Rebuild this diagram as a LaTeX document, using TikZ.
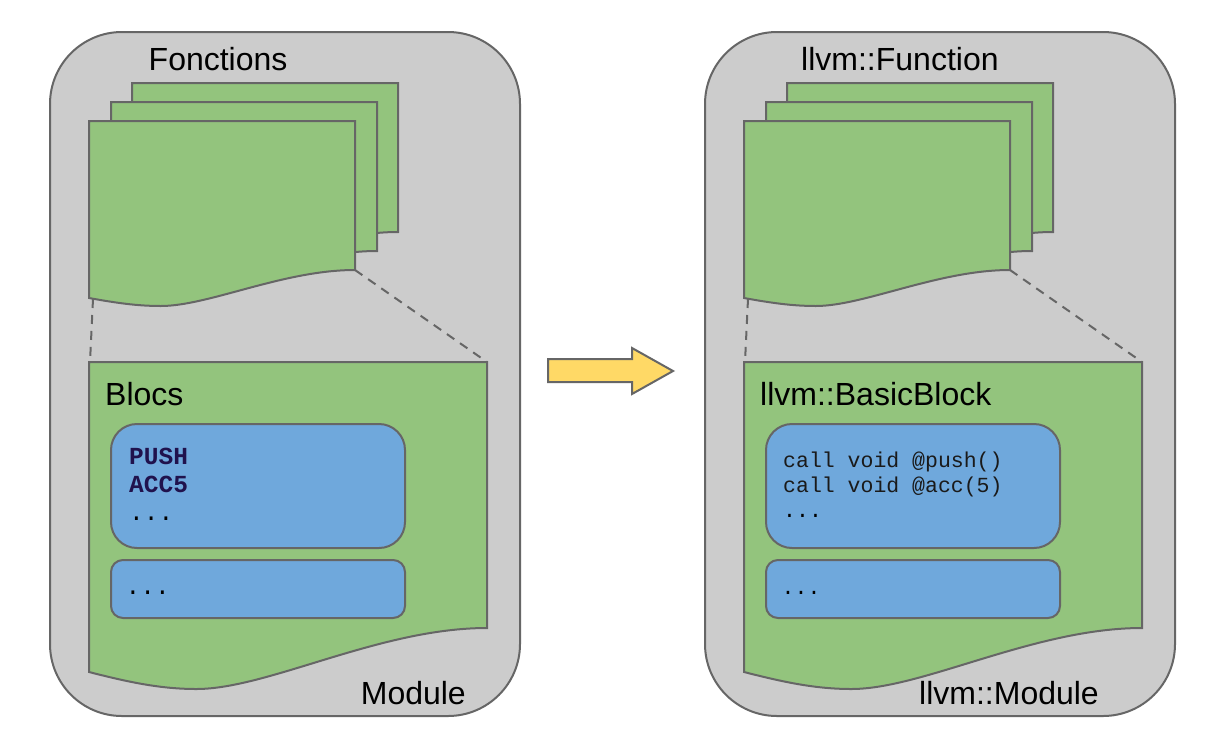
\documentclass[tikz,border=0pt]{standalone}
\usepackage{fontspec}
\setmainfont{Liberation Sans}
\newfontfamily\codefont{Liberation Mono}
\definecolor{modgray}{HTML}{CCCCCC}
\definecolor{edge}{HTML}{666666}
\definecolor{docgreen}{HTML}{93C47D}
\definecolor{blockblue}{HTML}{6FA8DC}
\definecolor{arrowyellow}{HTML}{FFD966}
\definecolor{navy}{HTML}{20124D}
\definecolor{codegray}{HTML}{1A1A1A}
\tikzset{
  modstyle/.style={draw=edge, fill=modgray, line width=2pt, rounded corners=72pt},
  docstyle/.style={draw=edge, fill=docgreen, line width=2pt},
  blockstyle/.style={draw=edge, fill=blockblue, line width=2pt},
  zoomline/.style={draw=edge, line width=2pt, dash pattern=on 9pt off 7pt},
  title/.style={inner sep=0pt, font=\fontsize{32}{38}\selectfont},
  asm/.style={inner sep=0pt, anchor=base west, align=left, text=navy,
    font=\codefont\bfseries\fontsize{24.5}{28}\selectfont},
  ir/.style={inner sep=0pt, anchor=base west, align=left, text=codegray,
    font=\codefont\fontsize{21.5}{24.5}\selectfont},
  dots/.style={inner sep=0pt, anchor=base west, text=black}
}
% #2 x0, #3 x1, #4 ytop, #5 yLeft, #6 yRight, #7 ymin
\newcommand\mydocshape[7][]{%
  \pgfmathsetmacro\dw{#3-#2}%
  \draw[docstyle,#1] (#2,#4) -- (#3,#4) -- (#3,#6)
    .. controls ({#2+0.73*\dw},#6) and ({#2+0.45*\dw},#7) .. ({#2+0.27*\dw},#7)
    .. controls ({#2+0.18*\dw},#7) and ({#2+0.1*\dw},{#5+0.6*(#7-#5)}) .. (#2,#5) -- cycle;}
\newcommand\mypanel[1]{%
  \begin{scope}[xshift=#1]
    \draw[modstyle] (50,32) rectangle (520,716);
    \mydocshape{132}{398}{83}{260}{232}{268}
    \mydocshape{111}{377}{102}{279}{251}{287}
    \mydocshape{89}{355}{121}{298}{270}{306}
    \mydocshape{89}{487}{362}{672}{628}{689}
    \draw[blockstyle, rounded corners=26pt] (111,424) rectangle (405,548);
    \draw[blockstyle, rounded corners=12pt] (111,560) rectangle (405,618);
  \end{scope}}
\begin{document}
\begin{tikzpicture}[x=1pt, y=-1pt]
\useasboundingbox (0,0) rectangle (1225,750);
\fill[white] (0,0) rectangle (1225,750);
% left panel
\mypanel{0pt}
\coordinate (lfBL) at (93,299);
\coordinate (lfBR) at (355,270);
\coordinate (lbTL) at (90,362);
\coordinate (lbTR) at (487,362);
\draw[zoomline] (lfBL) -- (lbTL);
\draw[zoomline] (lfBR) -- (lbTR);
\node[title, anchor=base west] (fonctions) at (148.5,70) {Fonctions};
\node[title, anchor=base west] (blocs) at (105,405) {Blocs};
\node[title, anchor=base east] (module) at (466,704) {Module};
\node[asm] (asmcode) at (129,492) {PUSH\\ACC5};
\node[dots, font=\codefont\fontsize{24.5}{28}\selectfont] (asmdots) at (129,520) {...};
\node[dots, font=\codefont\fontsize{24.5}{28}\selectfont] (asmdots2) at (125.5,594) {...};
% arrow
\draw[draw=edge, fill=arrowyellow, line width=2pt, line join=miter]
  (548,359) -- (632,359) -- (632,348) -- (673,371) -- (632,394) -- (632,382) -- (548,382) -- cycle;
% right panel
\mypanel{655pt}
\coordinate (rfBL) at (748,299);
\coordinate (rfBR) at (1010,270);
\coordinate (rbTL) at (745,362);
\coordinate (rbTR) at (1142,362);
\draw[zoomline] (rfBL) -- (rbTL);
\draw[zoomline] (rfBR) -- (rbTR);
\node[title, anchor=base west] (llvmfunc) at (801,70) {llvm::Function};
\node[title, anchor=base west] (llvmbb) at (760,405) {llvm::BasicBlock};
\node[title, anchor=base east] (llvmmod) at (1099,704) {llvm::Module};
\node[ir] (ircode) at (783,492) {call void @push()\\call void @acc(5)};
\node[dots, font=\codefont\fontsize{21.5}{24.5}\selectfont] (irdots) at (783,517) {...};
\node[dots, font=\codefont\fontsize{21.5}{24.5}\selectfont] (irdots2) at (781.5,594) {...};
\end{tikzpicture}
\end{document}
